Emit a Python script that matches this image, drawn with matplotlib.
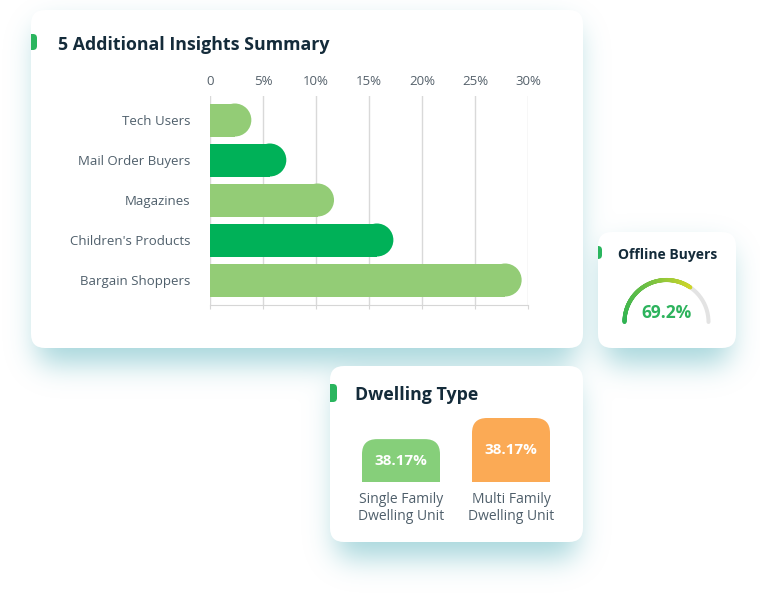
import matplotlib.pyplot as plt
import numpy as np
from matplotlib.patches import FancyBboxPatch, Ellipse
from matplotlib.collections import LineCollection
from matplotlib.colors import LinearSegmentedColormap

plt.rcParams['font.family'] = ['Open Sans', 'DejaVu Sans']

# data
insight_labels = ['Tech Users', 'Mail Order Buyers', 'Magazines', "Children's Products", 'Bargain Shoppers']
insight_values = [3.9, 7.2, 11.7, 17.3, 29.4]
insight_colors = ['#93cc76', '#00b158', '#93cc76', '#00b158', '#93cc76']
insight_ticks = [0, 5, 10, 15, 20, 25, 30]
insight_tick_labels = ['0', '5%', '10%', '15%', '20%', '25%', '30%']

offline_buyers = 69.2

dwelling_labels = ['Single Family\nDwelling Unit', 'Multi Family\nDwelling Unit']
dwelling_values = [38.17, 38.17]
dwelling_heights = [0.67, 1.0]  # relative bar heights as drawn in the source
dwelling_colors = ['#86cf7a', '#fbaa55']

W, H = 760, 600
fig = plt.figure(figsize=(W / 100, H / 100), dpi=100)
fig.patch.set_facecolor('white')


def px_axes(x0, y0, x1, y1):
    ax = fig.add_axes([x0 / W, 1 - y1 / H, (x1 - x0) / W, (y1 - y0) / H])
    ax.patch.set_alpha(0)
    return ax


bg = px_axes(0, 0, W, H)
bg.set_xlim(0, W)
bg.set_ylim(H, 0)
bg.axis('off')

cards = [(31, 10, 583, 348), (598, 232, 736, 348), (330, 366, 583, 542)]

# soft drop shadow under the cards
yy, xx = np.mgrid[0:H, 0:W] + 0.5


def rrect_mask(x0, y0, x1, y1, r):
    cx = np.clip(xx, x0 + r, x1 - r)
    cy = np.clip(yy, y0 + r, y1 - r)
    return ((xx - cx) ** 2 + (yy - cy) ** 2 <= r * r).astype(float)


def blur(a, s):
    k = np.exp(-0.5 * (np.arange(-3 * s, 3 * s + 1) / s) ** 2)
    k /= k.sum()
    a = np.apply_along_axis(lambda r: np.convolve(r, k, mode='same'), 1, a)
    a = np.apply_along_axis(lambda c: np.convolve(c, k, mode='same'), 0, a)
    return a


mask = np.zeros((H, W))
for x0, y0, x1, y1 in cards:
    mask = np.maximum(mask, rrect_mask(x0 + 6, y0 + 16, x1 - 6, y1 + 16, 14))
mask = blur(mask, 14)
shadow = np.zeros((H, W, 4))
shadow[..., :3] = np.array([142, 203, 210]) / 255
shadow[..., 3] = np.clip(mask * 0.78, 0, 1)
bg.imshow(shadow, extent=(0, W, H, 0), zorder=0, interpolation='bilinear')
bg.set_xlim(0, W)
bg.set_ylim(H, 0)

card_patches = []
for x0, y0, x1, y1 in cards:
    p = FancyBboxPatch((x0, y0), x1 - x0, y1 - y0, boxstyle='round,pad=0,rounding_size=14',
                       fc='white', ec='none', zorder=1)
    bg.add_patch(p)
    card_patches.append(p)

# green markers at the card edges
for p, (x1, y0, y1) in zip(card_patches, [(37, 34, 50), (602, 246, 259), (337, 384, 402)]):
    m = FancyBboxPatch((x1 - 12, y0), 12, y1 - y0, boxstyle='round,pad=0,rounding_size=4',
                       fc='#2ab55e', ec='none', zorder=2)
    bg.add_patch(m)
    m.set_clip_path(p)

title_color = '#142b3a'
label_color = '#4f5f6b'
bg.text(58, 44.5, '5 Additional Insights Summary', ha='left', va='center', fontsize=12.8,
        fontweight='bold', color=title_color, zorder=3)
bg.text(618, 254.5, 'Offline Buyers', ha='left', va='center', fontsize=10,
        fontweight='bold', color=title_color, zorder=3)
bg.text(355, 394.5, 'Dwelling Type', ha='left', va='center', fontsize=12.8,
        fontweight='bold', color=title_color, zorder=3)

# horizontal bar chart
ax = px_axes(210, 96, 528, 305)
ax.set_xlim(0, 30)
ax.set_ylim(4.625, -0.6)
bar_h = 0.825
rx = 16.5 / (318 / 30)
for i, (v, c) in enumerate(zip(insight_values, insight_colors)):
    ax.barh(i, v - rx, height=bar_h, color=c, lw=0, zorder=2)
    ax.add_patch(Ellipse((v - rx, i), 2 * rx, bar_h, color=c, lw=0, zorder=2))
ax.set_xticks(insight_ticks)
ax.set_xticklabels(insight_tick_labels)
ax.set_yticks(range(len(insight_labels)))
ax.set_yticklabels(insight_labels)
ax.grid(axis='x', color='#d9d9d9', lw=1)
ax.set_axisbelow(True)
ax.tick_params(axis='x', top=False, bottom=True, labeltop=True, labelbottom=False,
               length=3, color='#d6d6d6', pad=3, labelsize=9.5, labelcolor='#55616b')
ax.tick_params(axis='y', length=0, pad=14, labelsize=9.5, labelcolor=label_color)
for s in ['top', 'left', 'right']:
    ax.spines[s].set_visible(False)
ax.spines['bottom'].set_color('#d6d6d6')

# gauge
cx, cy, r = 666.5, 322, 42
t = np.radians(np.linspace(180, 0, 200))
bg.plot(cx + r * np.cos(t), cy - r * np.sin(t), color='#e3e3e3', lw=2.9,
        solid_capstyle='round', zorder=3)
t = np.radians(np.linspace(180, 180 - 180 * offline_buyers / 100, 200))
pts = np.column_stack([cx + r * np.cos(t), cy - r * np.sin(t)])
segs = np.stack([pts[:-1], pts[1:]], axis=1)
cmap = LinearSegmentedColormap.from_list('g', ['#2eb352', '#6cbf45', '#cdd52a'])
lc = LineCollection(segs, colors=cmap(np.linspace(0, 1, len(segs))), lw=2.9,
                    capstyle='round', zorder=4)
bg.add_collection(lc)
bg.text(cx, 313, f'{offline_buyers}%', ha='center', va='center', fontsize=12.5,
        fontweight='bold', color='#2db35d', zorder=5)

# dwelling type bars
dx = px_axes(346, 418, 566, 482)
dx.set_xlim(-0.5, 1.5)
dx.set_ylim(0, 1)
bw = 78 / 110
drx, dry = 15 / 110, 15 / 64
for i, (h, v, c) in enumerate(zip(dwelling_heights, dwelling_values, dwelling_colors)):
    dx.add_patch(FancyBboxPatch((i - bw / 2, 0), bw, h, boxstyle=f'round,pad=0,rounding_size={drx}',
                                mutation_aspect=dry / drx, fc=c, ec='none'))
    dx.bar(i, h / 2, width=bw, color=c, lw=0)
    dx.text(i, h / 2, f'{v:.2f}%', ha='center', va='center', color='white',
            fontsize=11, fontweight='bold')
dx.set_xticks(range(len(dwelling_labels)))
dx.set_xticklabels(dwelling_labels, linespacing=1.1)
dx.set_yticks([])
dx.tick_params(axis='x', length=0, pad=7.5, labelsize=10, labelcolor=label_color)
for s in dx.spines.values():
    s.set_visible(False)

fig.savefig('out.png', dpi=100)
